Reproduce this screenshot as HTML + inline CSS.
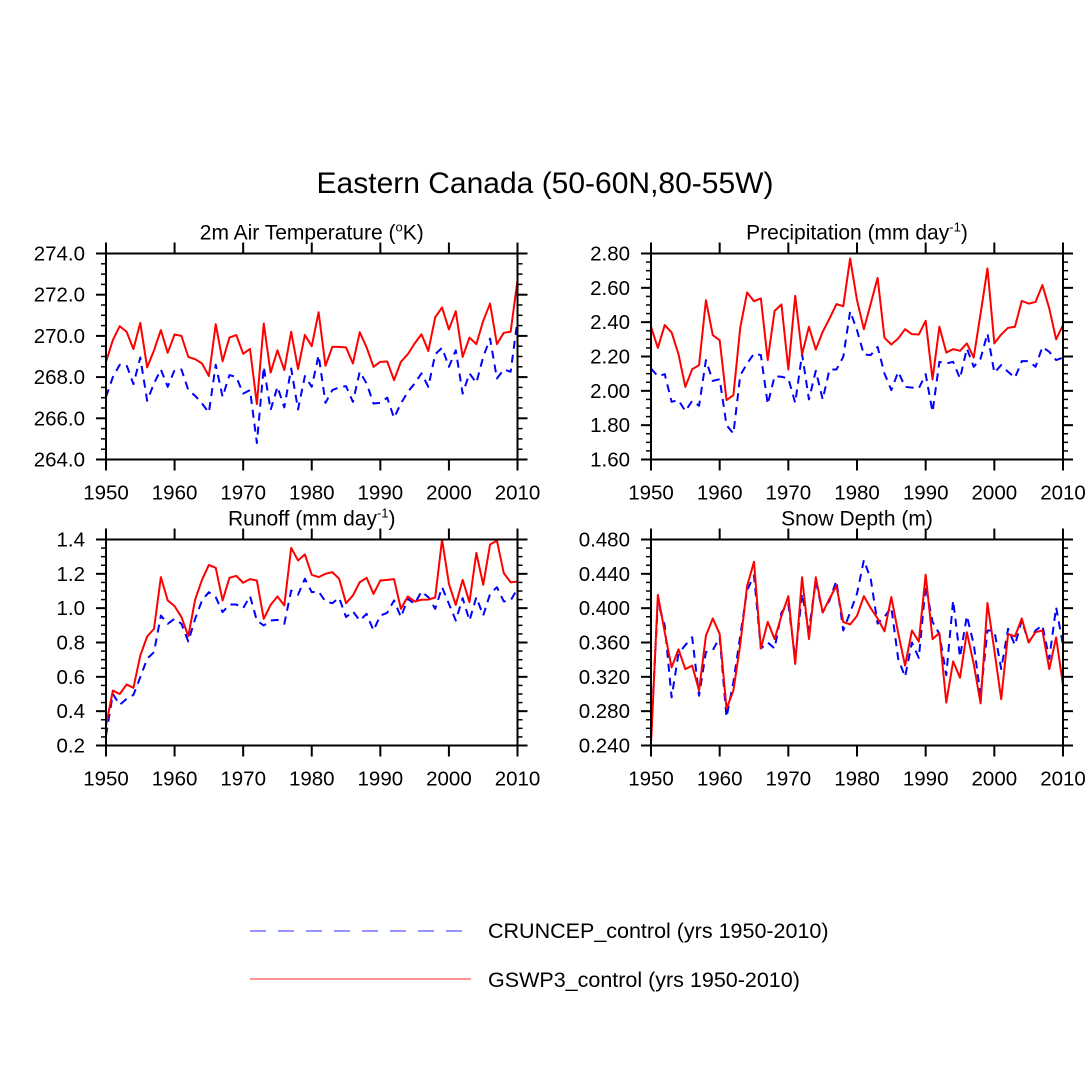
<!DOCTYPE html>
<html><head><meta charset="utf-8"><style>
html,body{margin:0;padding:0;background:#fff;}
svg{display:block;font-family:"Liberation Sans",sans-serif;}
</style></head><body>
<svg id="fig" width="1090" height="1092" viewBox="0 0 1090 1092">
<text x="545" y="193" font-size="30" text-anchor="middle">Eastern Canada (50-60N,80-55W)</text>
<g>
<line x1="250" y1="931" x2="462" y2="931" stroke="#7070ff" stroke-width="1.5" stroke-dasharray="16,12"/>
<text x="488" y="938" font-size="21.5">CRUNCEP_control (yrs 1950-2010)</text>
<line x1="250" y1="979" x2="471" y2="979" stroke="#ff7070" stroke-width="1.5"/>
<text x="488" y="987" font-size="21.5">GSWP3_control (yrs 1950-2010)</text>
</g>
</svg>
<script>
const years = Array.from({length:61},(_,i)=>1950+i);
const tempRed = [268.74,269.8,270.47,270.2,269.36,270.63,268.47,269.3,270.28,269.18,270.07,270.0,268.98,268.87,268.66,268.05,270.57,268.77,269.92,270.04,269.13,269.37,266.69,270.6,268.22,269.3,268.34,270.2,268.39,270.05,269.5,271.15,268.55,269.47,269.47,269.44,268.66,270.18,269.44,268.5,268.74,268.76,267.85,268.74,269.11,269.63,270.08,269.27,270.9,271.38,270.31,271.2,268.98,269.92,269.6,270.73,271.57,269.6,270.15,270.2,272.7];
const tempBlue = [267.04,268.0,268.6,268.58,267.66,268.95,266.85,267.69,268.37,267.53,268.34,268.37,267.37,267.09,266.72,266.28,268.6,267.04,268.1,268.0,267.2,267.37,264.8,268.5,266.4,267.53,266.53,268.42,266.43,268.05,267.53,269.06,266.75,267.37,267.5,267.56,266.8,268.26,267.69,266.72,266.75,267.0,266.02,266.72,267.28,267.69,268.18,267.53,269.11,269.42,268.5,269.3,267.2,268.18,267.72,268.98,269.87,267.93,268.37,268.26,270.76];
const precRed = [2.373,2.25,2.383,2.34,2.214,2.023,2.126,2.15,2.528,2.324,2.295,1.946,1.975,2.369,2.573,2.522,2.538,2.179,2.466,2.503,2.124,2.553,2.212,2.373,2.24,2.344,2.421,2.505,2.493,2.771,2.528,2.359,2.508,2.658,2.309,2.27,2.305,2.359,2.33,2.328,2.408,2.066,2.373,2.223,2.243,2.233,2.276,2.194,2.45,2.713,2.276,2.328,2.367,2.373,2.524,2.508,2.518,2.616,2.48,2.3,2.383];
const precBlue = [2.13,2.085,2.097,1.936,1.946,1.882,1.942,1.913,2.179,2.058,2.068,1.8,1.751,2.091,2.159,2.217,2.208,1.922,2.085,2.082,2.072,1.93,2.214,1.95,2.117,1.95,2.124,2.124,2.198,2.464,2.353,2.212,2.208,2.256,2.101,2.004,2.111,2.023,2.019,2.014,2.097,1.878,2.169,2.159,2.169,2.072,2.247,2.14,2.188,2.334,2.105,2.15,2.111,2.076,2.173,2.173,2.14,2.256,2.227,2.179,2.194];
const runRed = [0.317,0.52,0.5,0.555,0.536,0.724,0.835,0.88,1.181,1.045,1.012,0.948,0.837,1.05,1.165,1.252,1.235,1.045,1.177,1.188,1.148,1.169,1.161,0.938,1.019,1.068,1.016,1.351,1.278,1.313,1.194,1.181,1.2,1.21,1.171,1.029,1.074,1.151,1.177,1.083,1.161,1.165,1.169,0.996,1.068,1.039,1.049,1.05,1.062,1.4,1.142,1.019,1.165,1.035,1.322,1.136,1.371,1.394,1.204,1.151,1.155];
const runBlue = [0.258,0.5,0.437,0.472,0.495,0.598,0.705,0.744,0.957,0.909,0.938,0.909,0.806,0.938,1.045,1.093,1.064,0.977,1.021,1.021,1.0,1.07,0.928,0.899,0.928,0.932,0.909,1.103,1.078,1.171,1.093,1.097,1.039,1.029,1.06,0.948,0.981,0.928,0.967,0.87,0.957,0.973,1.045,0.948,1.054,1.025,1.097,1.064,0.996,1.122,1.025,0.928,1.058,0.928,1.064,0.957,1.083,1.122,1.039,1.045,1.113];
const snowRed = [0.242,0.4155,0.372,0.331,0.352,0.329,0.333,0.304,0.368,0.388,0.37,0.283,0.304,0.358,0.426,0.454,0.353,0.384,0.364,0.391,0.414,0.335,0.436,0.364,0.436,0.395,0.411,0.426,0.384,0.381,0.391,0.414,0.4,0.388,0.373,0.413,0.371,0.333,0.374,0.361,0.439,0.364,0.371,0.29,0.338,0.319,0.372,0.335,0.289,0.406,0.351,0.294,0.37,0.367,0.388,0.36,0.372,0.374,0.329,0.366,0.31];
const snowBlue = [0.252,0.407,0.38,0.296,0.347,0.357,0.366,0.298,0.349,0.351,0.366,0.273,0.314,0.368,0.421,0.438,0.353,0.36,0.353,0.395,0.405,0.341,0.417,0.374,0.432,0.395,0.409,0.432,0.374,0.395,0.417,0.456,0.434,0.382,0.39,0.401,0.341,0.32,0.36,0.342,0.426,0.384,0.37,0.322,0.409,0.343,0.391,0.358,0.298,0.374,0.374,0.329,0.376,0.357,0.386,0.36,0.374,0.38,0.341,0.401,0.357];
const xTicks = [1950,1960,1970,1980,1990,2000,2010];
const tempTicks = [264,266,268,270,272,274];
const precTicks = [1.6,1.8,2.0,2.2,2.4,2.6,2.8];
const runTicks = [0.2,0.4,0.6,0.8,1.0,1.2,1.4];
const snowTicks = [0.24,0.28,0.32,0.36,0.40,0.44,0.48];

const NS='http://www.w3.org/2000/svg';
const svg=document.getElementById('fig');
function mk(tag,attrs,parent){const e=document.createElementNS(NS,tag);for(const k in attrs)e.setAttribute(k,attrs[k]);(parent||svg).appendChild(e);return e;}

function panel(opt){
  const {x0,x1,y0,y1,ymin,ymax,yticks,dec,minorStep,title,sup,tail,red,blue,name}=opt;
  const g=mk('g',{});
  
  
  const sx=v=>x0+(v-1950)/(60)*(x1-x0);
  const sy=v=>y1-(v-ymin)/(ymax-ymin)*(y1-y0);
  const t=mk('text',{x:(x0+x1)/2,y:y0-14,'font-size':21,'text-anchor':'middle'},g);
  
  
  t.appendChild(document.createTextNode(title));
  if(sup){const s=mk('tspan',{dy:-8,'font-size':13},t);s.textContent=sup;const r=mk('tspan',{dy:8},t);r.textContent=tail;}
  function line(vals,color,dash,nm){
    const d=vals.map((v,i)=>(i?'L':'M')+sx(years[i]).toFixed(2)+','+sy(v).toFixed(2)).join('');
    const p=mk('path',{d:d,fill:'none',stroke:color,'stroke-width':2,'stroke-linejoin':'round'},g);
    if(dash)p.setAttribute('stroke-dasharray',dash);
    
    
  }
  line(blue,'#0000ff','8,6',name+'-cruncep-line');
  line(red,'#ff0000',null,name+'-gswp3-line');
  const f=mk('rect',{x:x0,y:y0,width:x1-x0,height:y1-y0,fill:'none',stroke:'#000','stroke-width':2},g);
  
  
  xTicks.forEach(v=>{
    const X=sx(v);
    mk('line',{x1:X,y1:y1,x2:X,y2:y1+11,stroke:'#000','stroke-width':2},g);
    mk('line',{x1:X,y1:y0,x2:X,y2:y0-11,stroke:'#000','stroke-width':2},g);
    const l=mk('text',{x:X,y:y1+40,'font-size':20.5,'text-anchor':'middle'},g);
    
    
    l.textContent=v;
  });
  yticks.forEach(v=>{
    const Y=sy(v);
    mk('line',{x1:x0-10,y1:Y,x2:x0,y2:Y,stroke:'#000','stroke-width':2},g);
    mk('line',{x1:x1,y1:Y,x2:x1+10,y2:Y,stroke:'#000','stroke-width':2},g);
    const l=mk('text',{x:x0-21,y:Y+7,'font-size':20.5,'text-anchor':'end'},g);
    
    
    l.textContent=v.toFixed(dec);
  });
  const n=Math.round((ymax-ymin)/minorStep);
  for(let i=1;i<n;i++){
    const Y=sy(ymin+i*minorStep);
    mk('line',{x1:x0-5,y1:Y,x2:x0,y2:Y,stroke:'#000','stroke-width':1.5},g);
    mk('line',{x1:x1,y1:Y,x2:x1+5,y2:Y,stroke:'#000','stroke-width':1.5},g);
  }
}
panel({name:'temperature',x0:106,x1:517.5,y0:253.5,y1:459.5,ymin:264,ymax:274,yticks:tempTicks,dec:1,minorStep:0.5,title:'2m Air Temperature (',sup:'o',tail:'K)',red:tempRed,blue:tempBlue});
panel({name:'precipitation',x0:651,x1:1063,y0:253.5,y1:459.5,ymin:1.6,ymax:2.8,yticks:precTicks,dec:2,minorStep:0.05,title:'Precipitation (mm day',sup:'-1',tail:')',red:precRed,blue:precBlue});
panel({name:'runoff',x0:106,x1:517.5,y0:539.5,y1:745.5,ymin:0.2,ymax:1.4,yticks:runTicks,dec:1,minorStep:0.05,title:'Runoff (mm day',sup:'-1',tail:')',red:runRed,blue:runBlue});
panel({name:'snow-depth',x0:651,x1:1063,y0:539.5,y1:745.5,ymin:0.24,ymax:0.48,yticks:snowTicks,dec:3,minorStep:0.01,title:'Snow Depth (m)',sup:null,tail:'',red:snowRed,blue:snowBlue});
</script>
</body></html>
